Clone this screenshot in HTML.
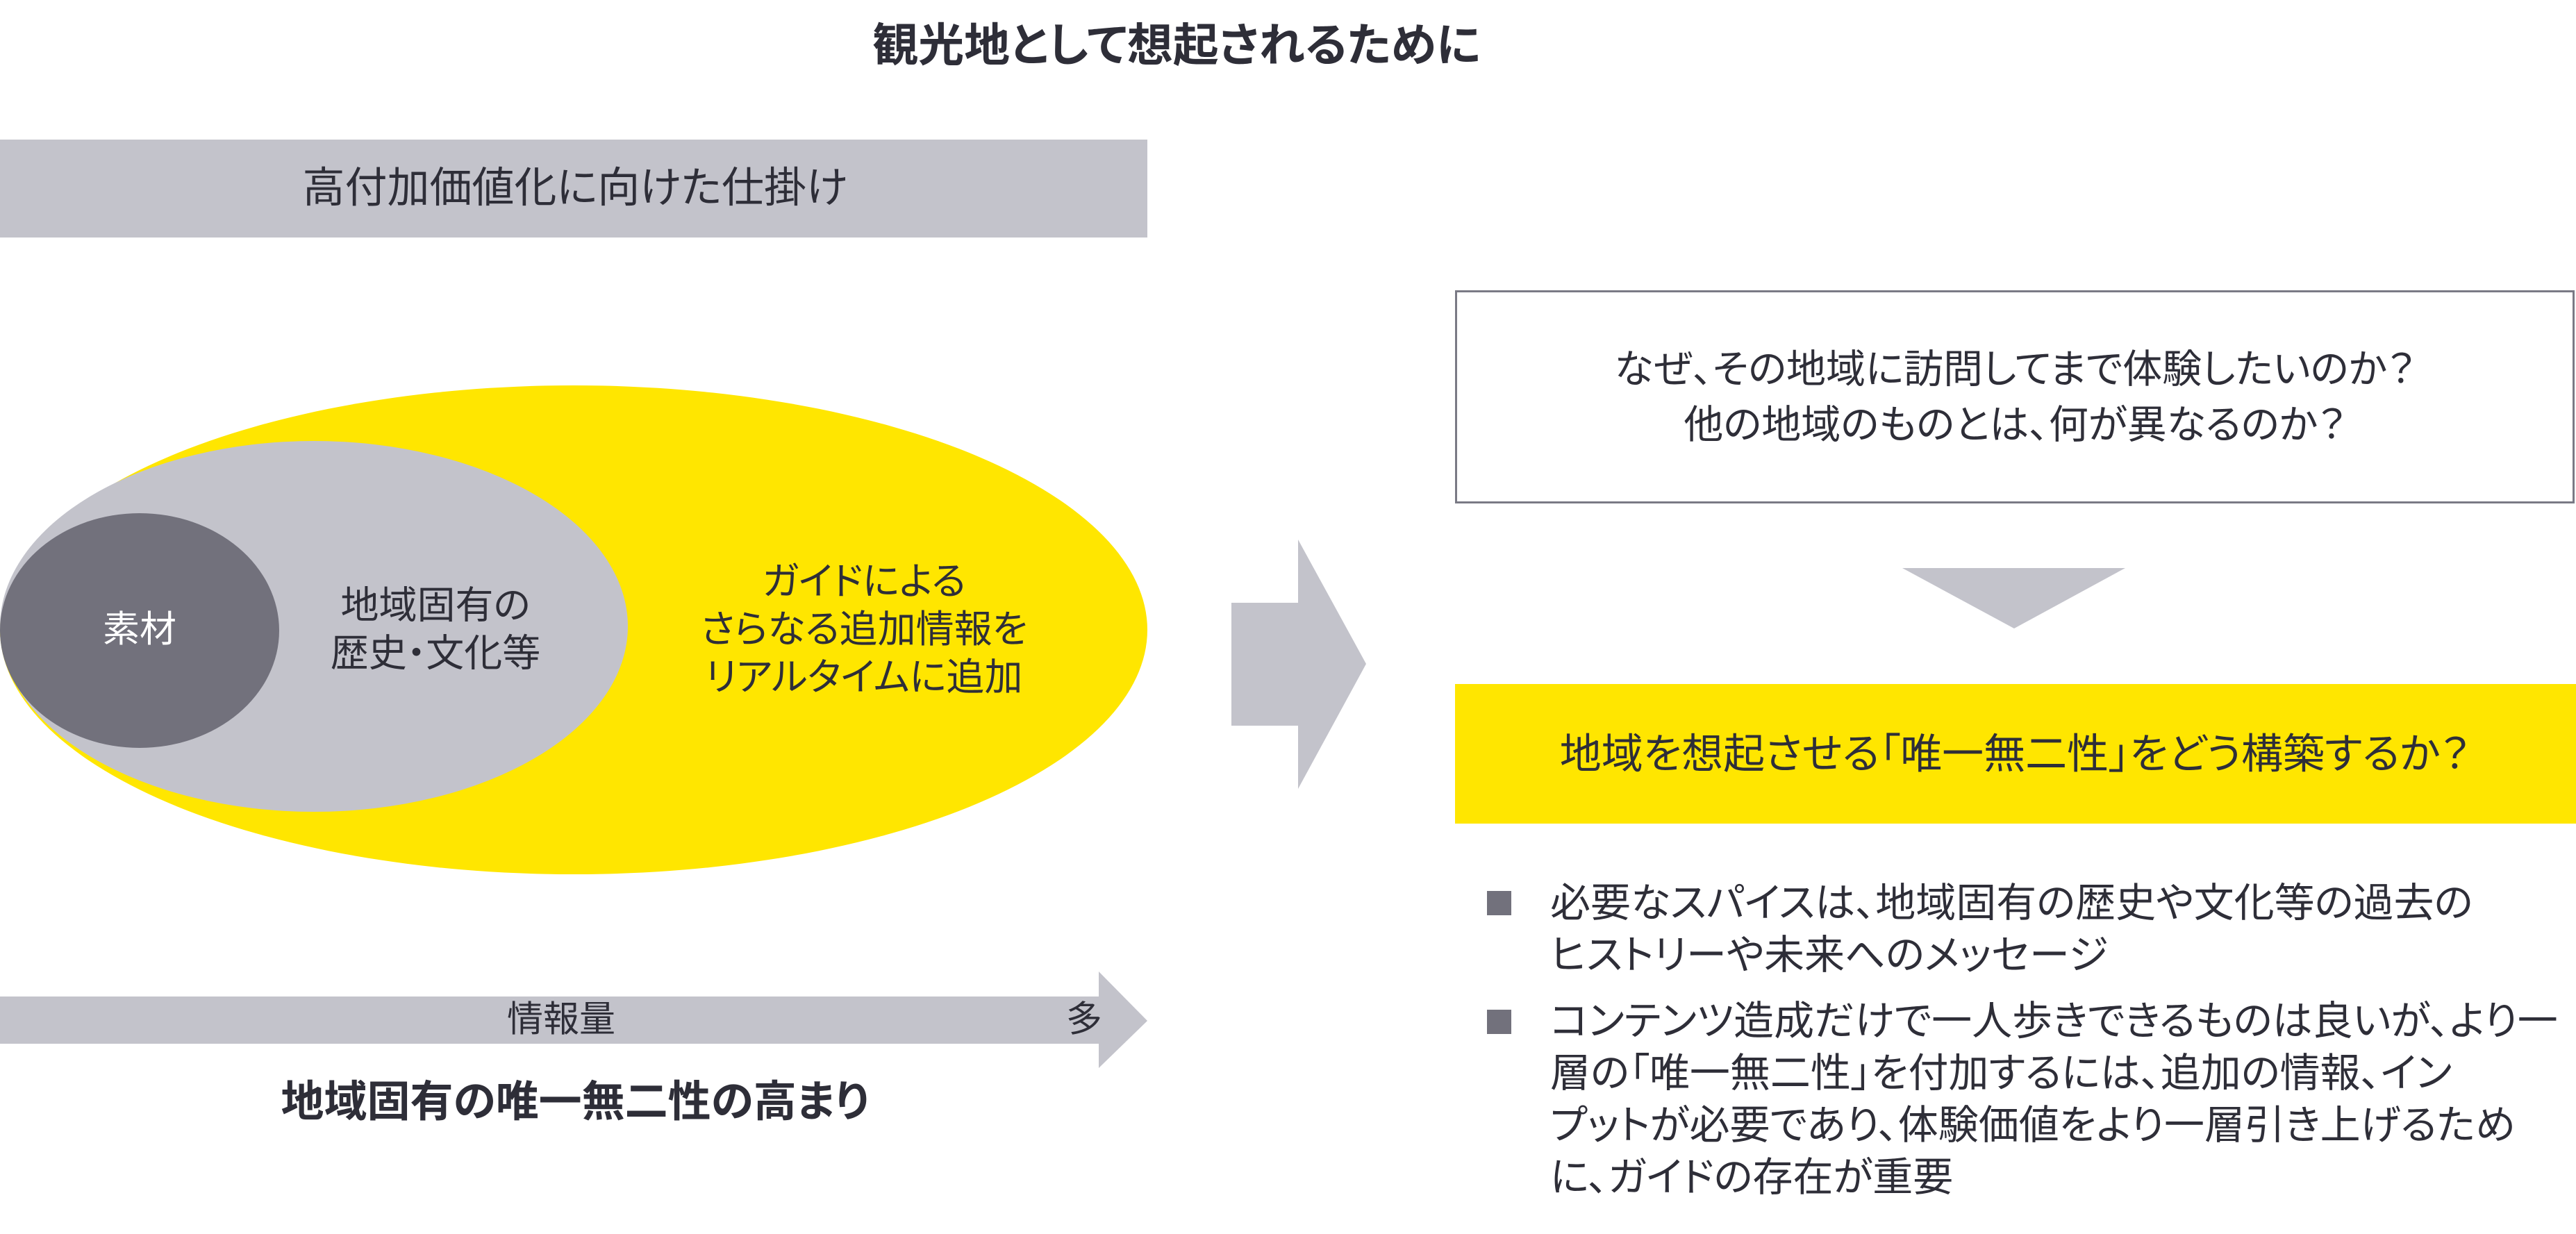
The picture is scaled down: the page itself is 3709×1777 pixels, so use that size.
<!DOCTYPE html>
<html><head><meta charset="utf-8"><style>
body{margin:0;width:3709px;height:1777px;background:#fff;position:relative;overflow:hidden;font-family:"Liberation Sans","Noto Sans CJK JP",sans-serif;color:#2e2e38;font-feature-settings:"palt"}
.t{position:absolute;white-space:nowrap;text-align:center;transform:translate(-50%,-50%);line-height:1.25}
</style></head><body>
<div class="t" style="left:1694px;top:65px;font-size:66px;font-weight:bold">観光地として想起されるために</div>
<div style="position:absolute;left:0;top:201px;width:1652px;height:141px;background:#c3c3cb"></div>
<div class="t" style="left:828px;top:270px;font-size:61px">高付加価値化に向けた仕掛け</div>
<svg style="position:absolute;left:0;top:0" width="3709" height="1777">
<ellipse cx="826" cy="907" rx="826" ry="352" fill="#ffe600"/>
<ellipse cx="452" cy="902" rx="452" ry="267" fill="#c3c3cb"/>
<ellipse cx="201" cy="908" rx="201" ry="169" fill="#72717c"/>
<polygon points="1773,868 1869,868 1869,777 1967,956 1869,1136 1869,1045 1773,1045" fill="#c3c3cb"/>
<polygon points="0,1435 1582,1435 1582,1399 1652,1470 1582,1538 1582,1503 0,1503" fill="#c3c3cb"/>
<polygon points="2739,818 3060,818 2900,905" fill="#c3c3cb"/>
<rect x="2096.5" y="419.5" width="1609" height="304" fill="#fff" stroke="#7a7a85" stroke-width="3"/>
<rect x="2095" y="985" width="1614" height="201" fill="#ffe600"/>
<rect x="2141" y="1283" width="35" height="35" fill="#72717c"/>
<rect x="2141" y="1454" width="35" height="35" fill="#72717c"/>
</svg>
<div class="t" style="left:201px;top:907px;font-size:53px;color:#fff">素材</div>
<div class="t" style="left:627px;top:906px;font-size:55px">地域固有の<br>歴史・文化等</div>
<div class="t" style="left:1244px;top:906px;font-size:55px">ガイドによる<br>さらなる追加情報を<br>リアルタイムに追加</div>
<div class="t" style="left:808px;top:1469px;font-size:52px">情報量</div>
<div class="t" style="left:1561px;top:1469px;font-size:52px">多</div>
<div class="t" style="left:828px;top:1587px;font-size:62px;font-weight:bold">地域固有の唯一無二性の高まり</div>
<div class="t" style="left:2901px;top:572px;font-size:57px;line-height:80px">なぜ、その地域に訪問してまで体験したいのか？<br>他の地域のものとは、何が異なるのか？</div>
<div class="t" style="left:2901px;top:1086px;font-size:60px">地域を想起させる「唯一無二性」をどう構築するか？</div>
<div style="position:absolute;left:2232px;top:1263px;font-size:58px;line-height:75px;white-space:nowrap">必要なスパイスは、地域固有の歴史や文化等の過去の<br>ヒストリーや未来へのメッセージ</div>
<div style="position:absolute;left:2232px;top:1433px;font-size:58px;line-height:75px;white-space:nowrap">コンテンツ造成だけで一人歩きできるものは良いが、より一<br>層の「唯一無二性」を付加するには、追加の情報、イン<br>プットが必要であり、体験価値をより一層引き上げるため<br>に、ガイドの存在が重要</div>
</body></html>
